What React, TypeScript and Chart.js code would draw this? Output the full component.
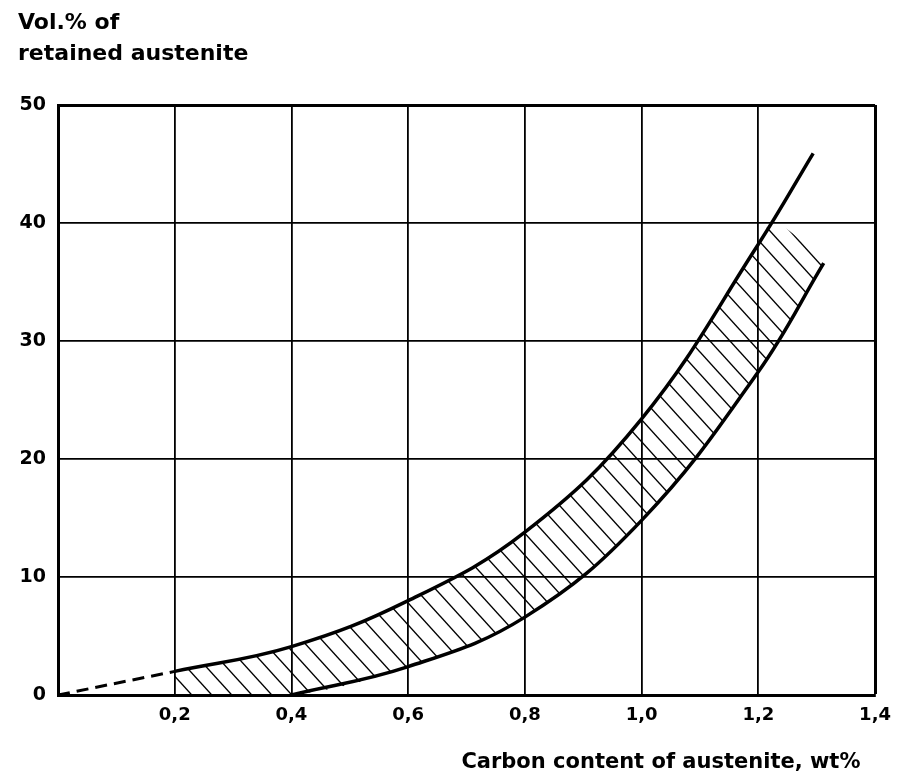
import React, { useEffect, useRef } from 'react';
import { Chart, registerables } from 'chart.js';

Chart.register(...registerables);

// ---- data ----
const xTicks = [0, 0.2, 0.4, 0.6, 0.8, 1.0, 1.2, 1.4];
const yTicks = [0, 10, 20, 30, 40, 50];

const dashedX = [0, 0.2];
const dashedY = [0, 2.0];

const upperX = [0.2, 0.4, 0.6, 0.8, 1.0, 1.2, 1.294];
const upperY = [2.0, 4.1, 8.0, 13.8, 23.4, 38.2, 45.9];

const lowerX = [0.4, 0.6, 0.8, 1.0, 1.2, 1.312];
const lowerY = [0, 2.4, 6.6, 14.8, 27.4, 36.6];

// hatched band boundaries
const hatchTopX = [0.2, 0.4, 0.6, 0.8, 1.0, 1.2, 1.228, 1.312];
const hatchTopY = [2.0, 4.1, 8.0, 13.8, 23.4, 38.2, 40.0, 36.6];
const hatchBottomX = [0.2, 0.4, 0.6, 0.8, 1.0, 1.2, 1.312];
const hatchBottomY = [0, 0, 2.4, 6.6, 14.8, 27.4, 36.6];

const yTitle = ['Vol.% of', 'retained austenite'];
const xTitle = 'Carbon content of austenite, wt%  ';

const FONT = "'DejaVu Sans', sans-serif";

const pts = (xs: number[], ys: number[]) => xs.map((x, i) => ({ x, y: ys[i] }));

function makeHatch(): CanvasPattern | string {
  const w = 20;
  const h = 22;
  const c = document.createElement('canvas');
  c.width = w;
  c.height = h;
  const g = c.getContext('2d');
  if (!g) return 'rgba(0,0,0,0.2)';
  g.strokeStyle = '#000';
  g.lineWidth = 1.4;
  for (const n of [-1, 0, 1]) {
    g.beginPath();
    g.moveTo(-w, -h + n * h);
    g.lineTo(2 * w, 2 * h + n * h);
    g.stroke();
  }
  return g.createPattern(c, 'repeat') || '#ccc';
}

export default function App() {
  const ref = useRef<HTMLCanvasElement | null>(null);

  useEffect(() => {
    if (!ref.current) return;
    const hatch = makeHatch();
    const chart = new Chart(ref.current, {
      type: 'line',
      data: {
        datasets: [
          {
            data: pts(hatchTopX, hatchTopY),
            borderWidth: 0,
            pointRadius: 0,
            fill: '+1',
            backgroundColor: hatch as any,
            tension: 0.4,
          },
          {
            data: pts(hatchBottomX, hatchBottomY),
            borderWidth: 0,
            pointRadius: 0,
            fill: false,
            tension: 0.4,
          },
          {
            data: pts(dashedX, dashedY),
            borderColor: '#000',
            borderWidth: 3,
            borderDash: [12, 7],
            pointRadius: 0,
            fill: false,
          },
          {
            data: pts(upperX, upperY),
            borderColor: '#000',
            borderWidth: 3.5,
            pointRadius: 0,
            fill: false,
            tension: 0.4,
          },
          {
            data: pts(lowerX, lowerY),
            borderColor: '#000',
            borderWidth: 3.5,
            pointRadius: 0,
            fill: false,
            tension: 0.4,
          },
        ],
      },
      options: {
        animation: false,
        responsive: false,
        devicePixelRatio: 1,
        layout: { padding: { left: 18, right: 23, top: 0, bottom: 0 } },
        plugins: {
          legend: { display: false },
          tooltip: { enabled: false },
          title: {
            display: true,
            text: yTitle,
            align: 'start',
            color: '#000',
            font: { family: FONT, size: 22, weight: 'bold', lineHeight: 1.41 },
            padding: { top: 8, bottom: 35 },
          },
        },
        scales: {
          x: {
            type: 'linear',
            min: 0,
            max: 1.4,
            afterBuildTicks: (s: any) => {
              s.ticks = xTicks.map((v) => ({ value: v }));
            },
            afterFit: (s: any) => {
              s.height = 84;
            },
            grid: {
              color: '#000',
              lineWidth: (c: any) => (c.tick && Math.abs(c.tick.value - 1.4) < 1e-6 ? 3 : 1.8),
              drawTicks: false,
            },
            border: { display: true, color: '#000', width: 3 },
            ticks: {
              color: '#000',
              padding: 10,
              font: { family: FONT, size: 18, weight: 'bold' },
              callback: (v: any) => (Number(v) === 0 ? '' : Number(v).toFixed(1).replace('.', ',')),
              maxRotation: 0,
            },
            title: {
              display: true,
              text: xTitle,
              align: 'end',
              color: '#000',
              font: { family: FONT, size: 21, weight: 'bold', lineHeight: 1.2 },
              padding: { top: 0, bottom: 4 },
            },
          },
          y: {
            type: 'linear',
            min: 0,
            max: 50,
            afterBuildTicks: (s: any) => {
              s.ticks = yTicks.map((v) => ({ value: v }));
            },
            afterFit: (s: any) => {
              s.width = 40;
            },
            grid: {
              color: '#000',
              lineWidth: (c: any) => (c.tick && c.tick.value === 50 ? 3 : 1.8),
              drawTicks: false,
            },
            border: { display: true, color: '#000', width: 3 },
            ticks: {
              color: '#000',
              padding: 12,
              font: { family: FONT, size: 19, weight: 'bold' },
              callback: (v: any) => String(v),
            },
          },
        },
      },
    });
    return () => chart.destroy();
  }, []);

  return (
    <div style={{ position: 'absolute', left: 0, top: 0, width: 901, height: 779, background: '#fff' }}>
      <canvas ref={ref} width={901} height={779} />
    </div>
  );
}
